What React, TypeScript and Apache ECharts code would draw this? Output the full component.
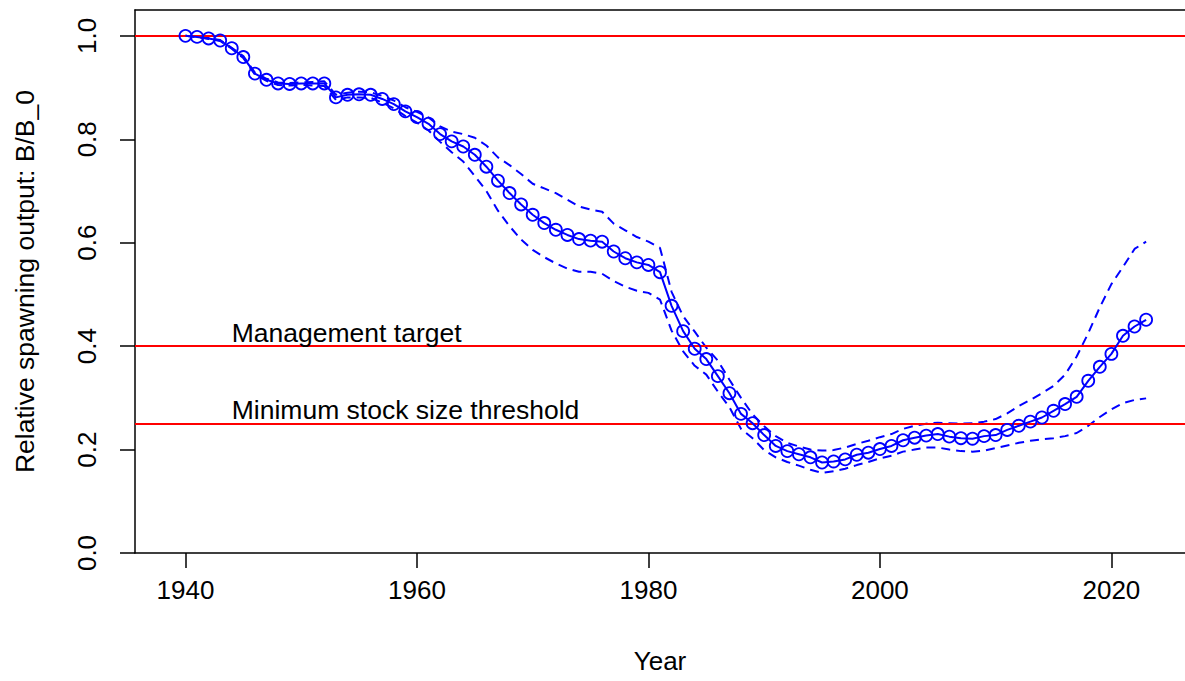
import React, { useEffect, useRef } from "react";
import * as echarts from "echarts";

const years: number[] = [];
for (let y = 1940; y <= 2023; y++) years.push(y);

const relSpawn = [
  1.000, 0.998, 0.995, 0.991, 0.976, 0.959, 0.927, 0.915, 0.908, 0.907,
  0.908, 0.908, 0.908, 0.881, 0.886, 0.887, 0.886, 0.878, 0.868, 0.854,
  0.843, 0.830, 0.810, 0.796, 0.786, 0.770, 0.747, 0.720, 0.696, 0.674,
  0.654, 0.638, 0.625, 0.615, 0.607, 0.604, 0.602, 0.583, 0.570, 0.562,
  0.557, 0.543, 0.478, 0.429, 0.395, 0.375, 0.342, 0.309, 0.269, 0.251,
  0.228, 0.207, 0.197, 0.191, 0.185, 0.175, 0.177, 0.181, 0.190, 0.194,
  0.201, 0.207, 0.218, 0.223, 0.227, 0.230, 0.225, 0.222, 0.221, 0.226,
  0.228, 0.238, 0.246, 0.254, 0.262, 0.275, 0.288, 0.302, 0.333, 0.360,
  0.385, 0.420, 0.438, 0.451,
];

const upperCI = [
  1.000, 0.998, 0.996, 0.992, 0.977, 0.961, 0.929, 0.917, 0.910, 0.909,
  0.910, 0.911, 0.912, 0.886, 0.890, 0.892, 0.891, 0.884, 0.875, 0.862,
  0.853, 0.842, 0.825, 0.815, 0.810, 0.803, 0.788, 0.765, 0.750, 0.733,
  0.714, 0.705, 0.696, 0.683, 0.670, 0.664, 0.660, 0.637, 0.624, 0.611,
  0.602, 0.590, 0.505, 0.458, 0.428, 0.397, 0.372, 0.335, 0.300, 0.268,
  0.245, 0.226, 0.213, 0.206, 0.200, 0.198, 0.199, 0.204, 0.211, 0.217,
  0.224, 0.230, 0.240, 0.246, 0.250, 0.252, 0.251, 0.250, 0.251, 0.254,
  0.259, 0.270, 0.284, 0.296, 0.309, 0.323, 0.345, 0.380, 0.425, 0.475,
  0.520, 0.553, 0.588, 0.602,
];

const lowerCI = [
  1.000, 0.998, 0.994, 0.990, 0.975, 0.957, 0.925, 0.913, 0.905, 0.904,
  0.905, 0.904, 0.903, 0.876, 0.881, 0.881, 0.880, 0.871, 0.860, 0.845,
  0.832, 0.817, 0.795, 0.775, 0.757, 0.729, 0.700, 0.662, 0.632, 0.606,
  0.586, 0.572, 0.560, 0.550, 0.544, 0.544, 0.540, 0.526, 0.515, 0.507,
  0.503, 0.490, 0.430, 0.390, 0.362, 0.345, 0.312, 0.282, 0.240, 0.222,
  0.199, 0.185, 0.176, 0.169, 0.161, 0.155, 0.158, 0.163, 0.170, 0.176,
  0.183, 0.188, 0.196, 0.200, 0.204, 0.204, 0.200, 0.197, 0.196, 0.198,
  0.203, 0.208, 0.213, 0.217, 0.220, 0.222, 0.226, 0.232, 0.246, 0.263,
  0.278, 0.290, 0.296, 0.299,
];

const refLevels = [1.0, 0.4, 0.25];
const refLabels = [
  { x: 1944, y: 0.4, text: "Management target" },
  { x: 1944, y: 0.25, text: "Minimum stock size threshold" },
];
const xTicks = [1940, 1960, 1980, 2000, 2020];
const yTicks = [0, 0.2, 0.4, 0.6, 0.8, 1.0];

const BLUE = "#0000FF";
const FONT = "Liberation Sans";

export default function App() {
  const ref = useRef<HTMLDivElement>(null);
  useEffect(() => {
    if (!ref.current) return;
    const chart = echarts.init(ref.current, null, { renderer: "svg" });
    const pair = (arr: number[]) => years.map((y, i) => [y, arr[i]]);
    chart.setOption({
      animation: false,
      backgroundColor: "#ffffff",
      textStyle: { fontFamily: FONT },
      grid: { left: 135, top: 10, right: -4, bottom: 128, containLabel: false },
      xAxis: [
        {
          type: "value",
          min: 1935.64,
          max: 2026.36,
          name: "Year",
          nameLocation: "middle",
          nameGap: 95,
          nameTextStyle: { fontSize: 26, color: "#000", fontFamily: FONT },
          axisLine: { show: true, onZero: false, lineStyle: { color: "#000", width: 1.5 } },
          axisTick: { show: true, length: 15, customValues: xTicks, lineStyle: { color: "#000", width: 1.5 } },
          axisLabel: {
            show: true,
            customValues: xTicks,
            margin: 24,
            fontSize: 26,
            color: "#000",
            fontFamily: FONT,
            formatter: (v: number) => String(Math.round(v)),
          },
          splitLine: { show: false },
        },
        {
          type: "value",
          position: "top",
          min: 1935.64,
          max: 2026.36,
          axisLine: { show: true, onZero: false, lineStyle: { color: "#000", width: 1.5 } },
          axisTick: { show: false },
          axisLabel: { show: false },
          splitLine: { show: false },
        },
      ],
      yAxis: {
        type: "value",
        min: 0,
        max: 1.05,
        name: "Relative spawning output: B/B_0",
        nameLocation: "middle",
        nameGap: 97,
        nameRotate: 90,
        nameTextStyle: { fontSize: 26.5, color: "#000", fontFamily: FONT },
        axisLine: { show: true, onZero: false, lineStyle: { color: "#000", width: 1.5 } },
        axisTick: { show: true, length: 15, customValues: yTicks, lineStyle: { color: "#000", width: 1.5 } },
        axisLabel: {
          show: true,
          customValues: yTicks,
          rotate: 90,
          margin: 35,
          fontSize: 26,
          color: "#000",
          fontFamily: FONT,
          formatter: (v: number) => v.toFixed(1),
        },
        splitLine: { show: false },
      },
      series: [
        {
          type: "line",
          data: pair(relSpawn),
          symbol: "circle",
          symbolSize: 12,
          itemStyle: { color: "rgba(0,0,0,0)", borderColor: BLUE, borderWidth: 1.8 },
          lineStyle: { color: BLUE, width: 2 },
          z: 5,
          markLine: {
            silent: true,
            symbol: "none",
            label: { show: false },
            lineStyle: { color: "#FF0000", width: 2, type: "solid" },
            data: refLevels.map((v) => ({ yAxis: v })),
          },
        },
        {
          type: "line",
          data: pair(upperCI),
          symbol: "none",
          lineStyle: { color: BLUE, width: 2, type: [9, 6] },
          z: 4,
        },
        {
          type: "line",
          data: pair(lowerCI),
          symbol: "none",
          lineStyle: { color: BLUE, width: 2, type: [9, 6] },
          z: 4,
        },
        {
          type: "scatter",
          data: refLabels.map((d) => ({ value: [d.x, d.y], name: d.text })),
          symbolSize: 0,
          silent: true,
          label: {
            show: true,
            position: [0, 0],
            align: "left",
            verticalAlign: "bottom",
            fontSize: 26.5,
            color: "#000000",
            opacity: 1,
            fontFamily: FONT,
            formatter: (p: any) => p.name,
          },
          z: 6,
        },
      ],
    });
    return () => chart.dispose();
  }, []);
  return (
    <div
      ref={ref}
      style={{ position: "absolute", left: 0, top: 0, width: 1185, height: 681 }}
    />
  );
}
